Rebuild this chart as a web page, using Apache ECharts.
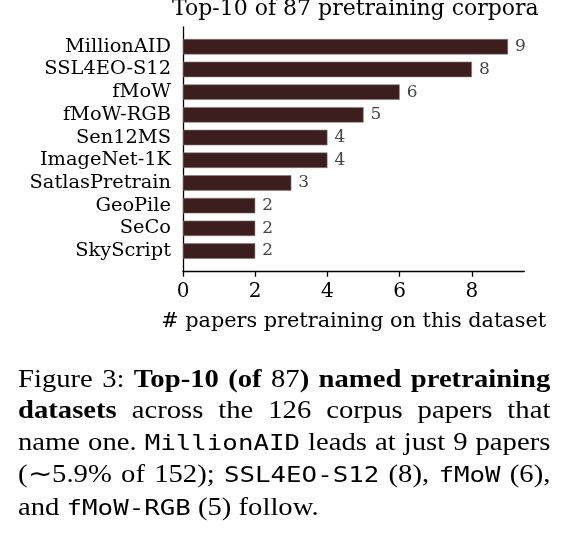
<!DOCTYPE html>
<html>
<head>
<meta charset="utf-8">
<script src="https://cdn.jsdelivr.net/npm/echarts@6/dist/echarts.min.js"></script>
<style>
  html, body { margin: 0; padding: 0; background: #fff; }
  #charts { position: absolute; left: 0; top: 0; width: 570px; height: 543px; }
  #caption {
    position: absolute; left: 18px; top: 362.5px; width: 455px;
    transform: scaleX(1.17); transform-origin: 0 0;
    font-family: "Liberation Serif", "Times New Roman", serif;
    font-size: 24.5px; line-height: 31.6px; color: #000;
  }
  #caption div { text-align: justify; text-align-last: justify; white-space: nowrap; }
  #caption div.last { text-align-last: left; }
  #caption code { font-family: "DejaVu Sans Mono", monospace; font-size: 0.9em; }
</style>
</head>
<body>
<div id="charts"></div>
<div id="caption">
  <div>Figure 3: <b>Top-10 (of</b> 87<b>) named pretraining</b></div>
  <div><b>datasets</b> across the 126 corpus papers that</div>
  <div>name one. <code>MillionAID</code> leads at just 9 papers</div>
  <div>(∼5.9% of 152); <code>SSL4EO-S12</code> (8), <code>fMoW</code> (6),</div>
  <div class="last">and <code>fMoW-RGB</code> (5) follow.</div>
</div>
<script>
  var datasets = ['MillionAID', 'SSL4EO-S12', 'fMoW', 'fMoW-RGB', 'Sen12MS',
                  'ImageNet-1K', 'SatlasPretrain', 'GeoPile', 'SeCo', 'SkyScript'];
  var papers = [9, 8, 6, 5, 4, 4, 3, 2, 2, 2];
  var xTicks = [0, 2, 4, 6, 8];
  var xMax = 9.45;

  var serif = '"DejaVu Serif", serif';
  var myChart = echarts.init(document.getElementById('charts'));

  var option = {
    animation: false,
    title: {
      text: 'Top-10 of 87 pretraining corpora',
      left: 172,
      top: -2,
      padding: 0,
      textStyle: { fontFamily: serif, fontSize: 22, fontWeight: 'normal', color: '#000' }
    },
    grid: [
      // bars
      { left: 183, right: 45.7, top: 35.4, height: 227 },
      // spines
      { left: 183, right: 45.7, top: 27, bottom: 271.3 }
    ],
    xAxis: [
      { gridIndex: 0, type: 'value', min: 0, max: xMax, show: false },
      {
        gridIndex: 1, type: 'value', min: 0, max: xMax,
        name: '# papers pretraining on this dataset',
        nameLocation: 'middle', nameGap: 39,
        nameTextStyle: { fontFamily: serif, fontSize: 20.8, color: '#000' },
        axisLine: { lineStyle: { color: '#000', width: 1.3 } },
        axisTick: { length: 5, customValues: xTicks, lineStyle: { color: '#000', width: 1.3 } },
        axisLabel: { customValues: xTicks, margin: 10, fontFamily: serif, fontSize: 20, color: '#000' },
        splitLine: { show: false }
      }
    ],
    yAxis: [
      {
        gridIndex: 0, type: 'category', data: datasets, inverse: true,
        axisLine: { show: false },
        axisTick: { alignWithLabel: true, length: 6, lineStyle: { color: '#000', width: 1.3 } },
        axisLabel: { interval: 0, margin: 12, fontFamily: serif, fontSize: 19.4, color: '#000' }
      },
      {
        gridIndex: 1, type: 'value',
        axisLine: { show: true, lineStyle: { color: '#000', width: 1.3 } },
        axisTick: { show: false },
        axisLabel: { show: false },
        splitLine: { show: false }
      }
    ],
    series: [
      {
        type: 'bar',
        xAxisIndex: 0,
        yAxisIndex: 0,
        data: papers,
        barWidth: 15.5,
        itemStyle: { color: '#3c1e1e', borderColor: '#8c7878', borderWidth: 0.6 },
        label: {
          show: true, position: 'right', distance: 7,
          fontFamily: serif, fontSize: 17, color: '#444'
        }
      }
    ]
  };
  myChart.setOption(option);
</script>
</body>
</html>
